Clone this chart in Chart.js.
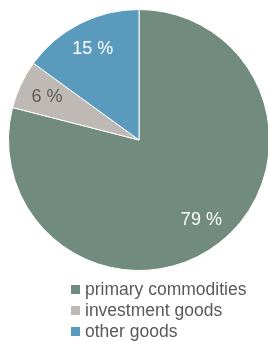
<!DOCTYPE html>
<html>
<head>
<meta charset="utf-8">
<script src="https://cdn.jsdelivr.net/npm/chart.js@4"></script>
<style>
  body { margin: 0; width: 268px; height: 342px; overflow: hidden; background: #fff; font-family: "Liberation Sans", Arial, sans-serif; position: relative; }
  #wrap { position: absolute; left: 0; top: 0; width: 278px; height: 280px; }
  #legend { position: absolute; left: 71px; top: 279px; color: #595959; font-size: 17.5px; }
  #legend div { height: 21px; line-height: 21px; white-space: nowrap; }
  #legend span { display: inline-block; width: 9px; height: 9px; margin-right: 5px; vertical-align: 1px; }
</style>
</head>
<body>
<div id="wrap"><canvas id="pie"></canvas></div>
<div id="legend"></div>
<script>
const categories = ["primary commodities", "investment goods", "other goods"];
const shares = [79, 6, 15];
const colors = ["#718b7e", "#bfb9b5", "#5a9abd"];
const labelColors = ["#ffffff", "#595959", "#ffffff"];

// labels inside the slices
const sliceLabels = {
  id: "sliceLabels",
  afterDatasetsDraw(chart) {
    const ctx = chart.ctx;
    const meta = chart.getDatasetMeta(0);
    ctx.save();
    ctx.font = "18px 'Liberation Sans', Arial, sans-serif";
    ctx.textAlign = "center";
    ctx.textBaseline = "middle";
    meta.data.forEach((arc, i) => {
      const mid = (arc.startAngle + arc.endAngle) / 2;
      const r = arc.outerRadius * 0.78;
      ctx.fillStyle = labelColors[i];
      ctx.fillText(shares[i] + " %", arc.x + Math.cos(mid) * r, arc.y + Math.sin(mid) * r);
    });
    ctx.restore();
  },
};

new Chart(document.getElementById("pie"), {
  type: "pie",
  data: {
    labels: categories,
    datasets: [{ data: shares, backgroundColor: colors, borderColor: "#ffffff", borderWidth: 1 }],
  },
  options: {
    responsive: true,
    maintainAspectRatio: false,
    animation: false,
    layout: { padding: 8 },
    plugins: { legend: { display: false }, tooltip: { enabled: false } },
  },
  plugins: [sliceLabels],
});

const legendEl = document.getElementById("legend");
categories.forEach((name, i) => {
  const row = document.createElement("div");
  const box = document.createElement("span");
  box.style.background = colors[i];
  row.appendChild(box);
  row.appendChild(document.createTextNode(name));
  legendEl.appendChild(row);
});
</script>
</body>
</html>
